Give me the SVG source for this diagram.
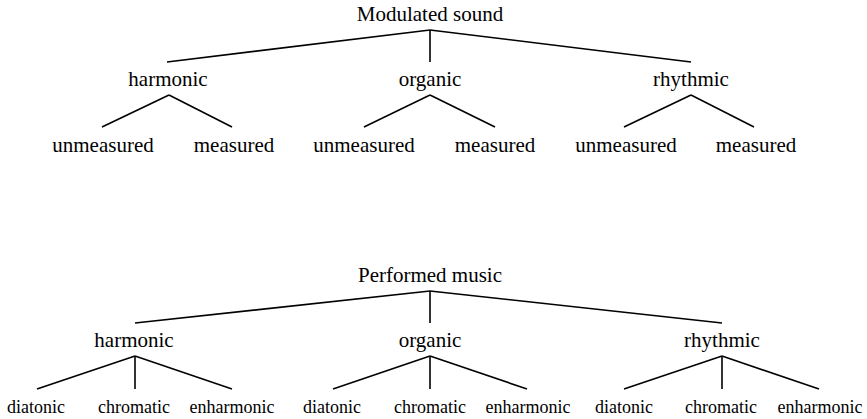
<svg xmlns="http://www.w3.org/2000/svg" width="867" height="419" viewBox="0 0 867 419">
<style>
text { font-family: "Liberation Serif", "Times New Roman", serif; fill: #000; text-anchor: middle; }
.big { font-size: 21px; }
.small { font-size: 18px; }
.edges line { stroke: #000; stroke-width: 1.6; stroke-linecap: butt; }
</style>
<rect width="867" height="419" fill="#fff"/>
<g id="connectors" class="edges">
  <line x1="430" y1="30" x2="167" y2="62"/>
  <line x1="430" y1="30" x2="430" y2="62"/>
  <line x1="430" y1="30" x2="691" y2="62"/>
  <line x1="169" y1="95" x2="102" y2="127"/>
  <line x1="169" y1="95" x2="232" y2="127"/>
  <line x1="430" y1="95" x2="364" y2="127"/>
  <line x1="430" y1="95" x2="495" y2="127"/>
  <line x1="691" y1="95" x2="624" y2="127"/>
  <line x1="691" y1="95" x2="754" y2="127"/>
  <line x1="430" y1="291" x2="135" y2="323"/>
  <line x1="430" y1="291" x2="430" y2="323"/>
  <line x1="430" y1="291" x2="722" y2="323"/>
  <line x1="135" y1="356" x2="37" y2="389"/>
  <line x1="135" y1="356" x2="135" y2="389"/>
  <line x1="135" y1="356" x2="232" y2="389"/>
  <line x1="430" y1="356" x2="333" y2="389"/>
  <line x1="430" y1="356" x2="430" y2="389"/>
  <line x1="430" y1="356" x2="527" y2="389"/>
  <line x1="722" y1="356" x2="624" y2="389"/>
  <line x1="722" y1="356" x2="722" y2="389"/>
  <line x1="722" y1="356" x2="819" y2="389"/>
</g>
<g id="n-modulated"><text class="big" x="430" y="21">Modulated sound</text></g>
<g id="n-m-harmonic"><text class="big" x="168" y="86">harmonic</text></g>
<g id="n-m-organic"><text class="big" x="430" y="86">organic</text></g>
<g id="n-m-rhythmic"><text class="big" x="691" y="86">rhythmic</text></g>
<g id="n-m-h-unm"><text class="big" x="103" y="152">unmeasured</text></g>
<g id="n-m-h-mea"><text class="big" x="234" y="152">measured</text></g>
<g id="n-m-o-unm"><text class="big" x="364" y="152">unmeasured</text></g>
<g id="n-m-o-mea"><text class="big" x="495" y="152">measured</text></g>
<g id="n-m-r-unm"><text class="big" x="626" y="152">unmeasured</text></g>
<g id="n-m-r-mea"><text class="big" x="756" y="152">measured</text></g>
<g id="n-performed"><text class="big" x="430" y="282">Performed music</text></g>
<g id="n-p-harmonic"><text class="big" x="134" y="347">harmonic</text></g>
<g id="n-p-organic"><text class="big" x="430" y="347">organic</text></g>
<g id="n-p-rhythmic"><text class="big" x="722" y="347">rhythmic</text></g>
<g id="n-p-h-dia"><text class="small" x="36" y="413">diatonic</text></g>
<g id="n-p-h-chr"><text class="small" x="134" y="413">chromatic</text></g>
<g id="n-p-h-enh"><text class="small" x="232" y="413">enharmonic</text></g>
<g id="n-p-o-dia"><text class="small" x="332" y="413">diatonic</text></g>
<g id="n-p-o-chr"><text class="small" x="430" y="413">chromatic</text></g>
<g id="n-p-o-enh"><text class="small" x="528" y="413">enharmonic</text></g>
<g id="n-p-r-dia"><text class="small" x="624" y="413">diatonic</text></g>
<g id="n-p-r-chr"><text class="small" x="721" y="413">chromatic</text></g>
<g id="n-p-r-enh"><text class="small" x="820" y="413">enharmonic</text></g>
</svg>
